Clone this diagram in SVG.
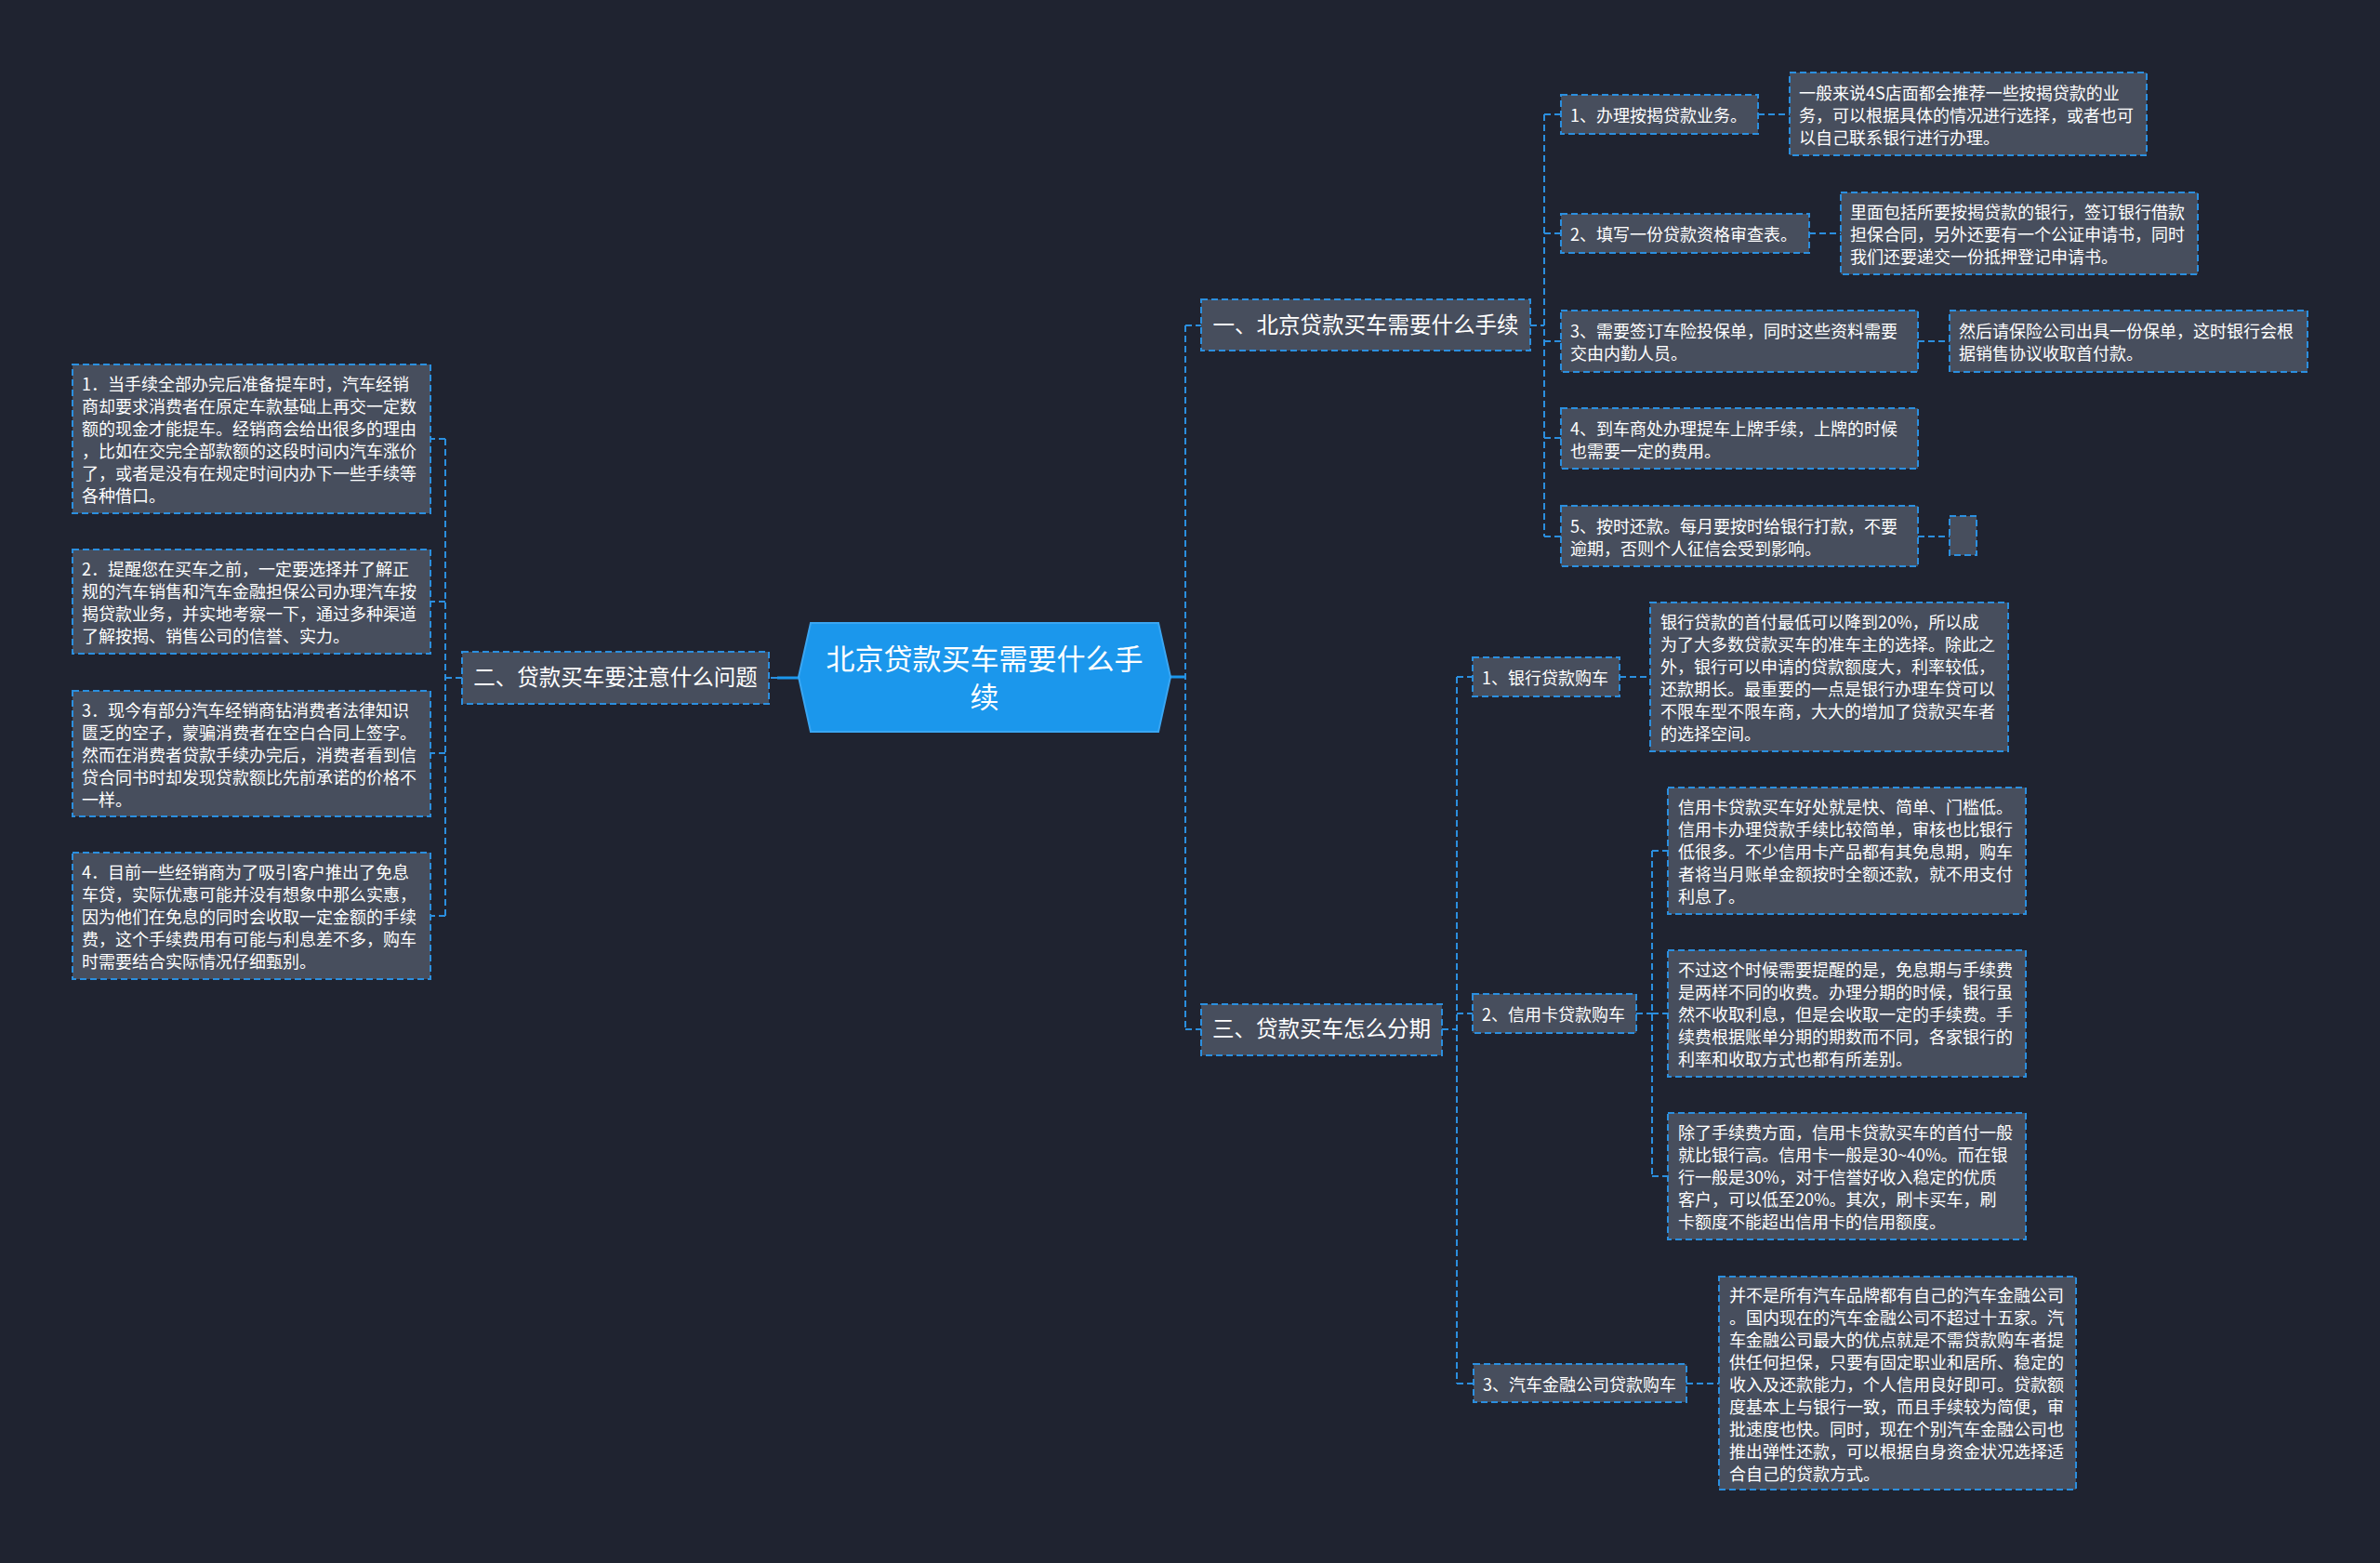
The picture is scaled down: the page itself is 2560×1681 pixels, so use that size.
<svg xmlns="http://www.w3.org/2000/svg" width="2560" height="1681" viewBox="0 0 2560 1681">
<style>
.bg{fill:#1f2330}
.n rect{fill:#474e5d;stroke:#2b8fdf;stroke-width:2;stroke-dasharray:7,4}
.t{font-family:"Noto Sans CJK SC","Microsoft YaHei",sans-serif;font-size:18px;fill:#ffffff;dominant-baseline:central}
.b{font-size:23.5px}
.c{font-size:31px}
.mid{text-anchor:middle}
.cn line{stroke:#2b8fdf;stroke-width:2;stroke-dasharray:7,4;fill:none}
.cn line.s{stroke-dasharray:none;stroke:#1b97ec;stroke-width:3}
</style>
<rect class="bg" x="0" y="0" width="2560" height="1681"/>

<g id="connectors" class="cn">
  <line class="s" x1="1259" y1="728" x2="1275" y2="728"/>
  <line x1="1275" y1="350" x2="1275" y2="1107"/>
  <line x1="1275" y1="350" x2="1292" y2="350"/>
  <line x1="1275" y1="1107" x2="1292" y2="1107"/>
  <line class="s" x1="860" y1="729" x2="836" y2="729"/>
  <line x1="836" y1="729" x2="827" y2="729"/>
  <line x1="497" y1="729" x2="479" y2="729"/>
  <line x1="479" y1="472" x2="479" y2="985"/>
  <line x1="479" y1="472" x2="463" y2="472"/>
  <line x1="479" y1="647" x2="463" y2="647"/>
  <line x1="479" y1="810" x2="463" y2="810"/>
  <line x1="479" y1="985" x2="463" y2="985"/>
  <line x1="1646" y1="350" x2="1661" y2="350"/>
  <line x1="1661" y1="123" x2="1661" y2="577"/>
  <line x1="1661" y1="123" x2="1679" y2="123"/>
  <line x1="1661" y1="251" x2="1679" y2="251"/>
  <line x1="1661" y1="367" x2="1679" y2="367"/>
  <line x1="1661" y1="471" x2="1679" y2="471"/>
  <line x1="1661" y1="577" x2="1679" y2="577"/>
  <line x1="1891" y1="123" x2="1925" y2="123"/>
  <line x1="1946" y1="251" x2="1980" y2="251"/>
  <line x1="2063" y1="367" x2="2097" y2="367"/>
  <line x1="2063" y1="577" x2="2097" y2="577"/>
  <line x1="1551" y1="1107" x2="1567" y2="1107"/>
  <line x1="1567" y1="728" x2="1567" y2="1488"/>
  <line x1="1567" y1="728" x2="1584" y2="728"/>
  <line x1="1567" y1="1090" x2="1584" y2="1090"/>
  <line x1="1567" y1="1488" x2="1585" y2="1488"/>
  <line x1="1742" y1="728" x2="1775" y2="728"/>
  <line x1="1760" y1="1090" x2="1777" y2="1090"/>
  <line x1="1777" y1="915" x2="1777" y2="1265"/>
  <line x1="1777" y1="915" x2="1794" y2="915"/>
  <line x1="1777" y1="1090" x2="1794" y2="1090"/>
  <line x1="1777" y1="1265" x2="1794" y2="1265"/>
  <line x1="1814" y1="1488" x2="1849" y2="1488"/>
</g>

<g id="root">
  <polygon points="872,670 1246,670 1259,728 1246,787 872,787 859,728" fill="#1b97ec" stroke="#3aa6f2" stroke-width="2"/>
  <text class="t c mid" x="1059" y="706">北京贷款买车需要什么手</text>
  <text class="t c mid" x="1059" y="747">续</text>
</g>

<g id="b1" class="n">
  <rect x="1292" y="322" width="354" height="55"/>
  <text class="t b mid" x="1469" y="348">一、北京贷款买车需要什么手续</text>
</g>
<g id="b2" class="n">
  <rect x="497" y="701" width="330" height="56"/>
  <text class="t b mid" x="662" y="727">二、贷款买车要注意什么问题</text>
</g>
<g id="b3" class="n">
  <rect x="1292" y="1080" width="259" height="55"/>
  <text class="t b mid" x="1421.5" y="1105">三、贷款买车怎么分期</text>
</g>

<g id="c1" class="n">
  <rect x="1679" y="102" width="212" height="42"/>
  <text class="t" x="1689" y="123">1、办理按揭贷款业务。</text>
</g>
<g id="c1d" class="n">
  <rect x="1925" y="78" width="384" height="89"/>
  <text class="t" x="1935" y="99">一般来说4S店面都会推荐一些按揭贷款的业</text>
  <text class="t" x="1935" y="123">务，可以根据具体的情况进行选择，或者也可</text>
  <text class="t" x="1935" y="147">以自己联系银行进行办理。</text>
</g>
<g id="c2" class="n">
  <rect x="1679" y="230" width="267" height="42"/>
  <text class="t" x="1689" y="251">2、填写一份贷款资格审查表。</text>
</g>
<g id="c2d" class="n">
  <rect x="1980" y="207" width="384" height="88"/>
  <text class="t" x="1990" y="227">里面包括所要按揭贷款的银行，签订银行借款</text>
  <text class="t" x="1990" y="251">担保合同，另外还要有一个公证申请书，同时</text>
  <text class="t" x="1990" y="275">我们还要递交一份抵押登记申请书。</text>
</g>
<g id="c3" class="n">
  <rect x="1679" y="334" width="384" height="66"/>
  <text class="t" x="1689" y="355">3、需要签订车险投保单，同时这些资料需要</text>
  <text class="t" x="1689" y="379">交由内勤人员。</text>
</g>
<g id="c3d" class="n">
  <rect x="2097" y="334" width="385" height="66"/>
  <text class="t" x="2107" y="355">然后请保险公司出具一份保单，这时银行会根</text>
  <text class="t" x="2107" y="379">据销售协议收取首付款。</text>
</g>
<g id="c4" class="n">
  <rect x="1679" y="439" width="384" height="65"/>
  <text class="t" x="1689" y="459.5">4、到车商处办理提车上牌手续，上牌的时候</text>
  <text class="t" x="1689" y="483.5">也需要一定的费用。</text>
</g>
<g id="c5" class="n">
  <rect x="1679" y="544" width="384" height="65"/>
  <text class="t" x="1689" y="564.5">5、按时还款。每月要按时给银行打款，不要</text>
  <text class="t" x="1689" y="588.5">逾期，否则个人征信会受到影响。</text>
</g>
<g id="c5d" class="n">
  <rect x="2097" y="555" width="29" height="42"/>
</g>

<g id="l1" class="n">
  <rect x="78" y="392" width="385" height="160"/>
  <text class="t" x="88" y="412">1．当手续全部办完后准备提车时，汽车经销</text>
  <text class="t" x="88" y="436">商却要求消费者在原定车款基础上再交一定数</text>
  <text class="t" x="88" y="460">额的现金才能提车。经销商会给出很多的理由</text>
  <text class="t" x="88" y="484">，比如在交完全部款额的这段时间内汽车涨价</text>
  <text class="t" x="88" y="508">了，或者是没有在规定时间内办下一些手续等</text>
  <text class="t" x="88" y="532">各种借口。</text>
</g>
<g id="l2" class="n">
  <rect x="78" y="591" width="385" height="112"/>
  <text class="t" x="88" y="611">2．提醒您在买车之前，一定要选择并了解正</text>
  <text class="t" x="88" y="635">规的汽车销售和汽车金融担保公司办理汽车按</text>
  <text class="t" x="88" y="659">揭贷款业务，并实地考察一下，通过多种渠道</text>
  <text class="t" x="88" y="683">了解按揭、销售公司的信誉、实力。</text>
</g>
<g id="l3" class="n">
  <rect x="78" y="743" width="385" height="135"/>
  <text class="t" x="88" y="762.5">3．现今有部分汽车经销商钻消费者法律知识</text>
  <text class="t" x="88" y="786.5">匮乏的空子，蒙骗消费者在空白合同上签字。</text>
  <text class="t" x="88" y="810.5">然而在消费者贷款手续办完后，消费者看到信</text>
  <text class="t" x="88" y="834.5">贷合同书时却发现贷款额比先前承诺的价格不</text>
  <text class="t" x="88" y="858.5">一样。</text>
</g>
<g id="l4" class="n">
  <rect x="78" y="917" width="385" height="136"/>
  <text class="t" x="88" y="937">4．目前一些经销商为了吸引客户推出了免息</text>
  <text class="t" x="88" y="961">车贷，实际优惠可能并没有想象中那么实惠，</text>
  <text class="t" x="88" y="985">因为他们在免息的同时会收取一定金额的手续</text>
  <text class="t" x="88" y="1009">费，这个手续费用有可能与利息差不多，购车</text>
  <text class="t" x="88" y="1033">时需要结合实际情况仔细甄别。</text>
</g>

<g id="d1" class="n">
  <rect x="1584" y="707" width="158" height="42"/>
  <text class="t" x="1594" y="728">1、银行贷款购车</text>
</g>
<g id="d1d" class="n">
  <rect x="1775" y="648" width="385" height="160"/>
  <text class="t" x="1786" y="668">银行贷款的首付最低可以降到20%，所以成</text>
  <text class="t" x="1786" y="692">为了大多数贷款买车的准车主的选择。除此之</text>
  <text class="t" x="1786" y="716">外，银行可以申请的贷款额度大，利率较低，</text>
  <text class="t" x="1786" y="740">还款期长。最重要的一点是银行办理车贷可以</text>
  <text class="t" x="1786" y="764">不限车型不限车商，大大的增加了贷款买车者</text>
  <text class="t" x="1786" y="788">的选择空间。</text>
</g>
<g id="d2" class="n">
  <rect x="1584" y="1069" width="176" height="42"/>
  <text class="t" x="1594" y="1090">2、信用卡贷款购车</text>
</g>
<g id="d2a" class="n">
  <rect x="1794" y="847" width="385" height="136"/>
  <text class="t" x="1805" y="867">信用卡贷款买车好处就是快、简单、门槛低。</text>
  <text class="t" x="1805" y="891">信用卡办理贷款手续比较简单，审核也比银行</text>
  <text class="t" x="1805" y="915">低很多。不少信用卡产品都有其免息期，购车</text>
  <text class="t" x="1805" y="939">者将当月账单金额按时全额还款，就不用支付</text>
  <text class="t" x="1805" y="963">利息了。</text>
</g>
<g id="d2b" class="n">
  <rect x="1794" y="1022" width="385" height="136"/>
  <text class="t" x="1805" y="1042">不过这个时候需要提醒的是，免息期与手续费</text>
  <text class="t" x="1805" y="1066">是两样不同的收费。办理分期的时候，银行虽</text>
  <text class="t" x="1805" y="1090">然不收取利息，但是会收取一定的手续费。手</text>
  <text class="t" x="1805" y="1114">续费根据账单分期的期数而不同，各家银行的</text>
  <text class="t" x="1805" y="1138">利率和收取方式也都有所差别。</text>
</g>
<g id="d2c" class="n">
  <rect x="1794" y="1197" width="385" height="136"/>
  <text class="t" x="1805" y="1217">除了手续费方面，信用卡贷款买车的首付一般</text>
  <text class="t" x="1805" y="1241">就比银行高。信用卡一般是30~40%。而在银</text>
  <text class="t" x="1805" y="1265">行一般是30%，对于信誉好收入稳定的优质</text>
  <text class="t" x="1805" y="1289">客户，可以低至20%。其次，刷卡买车，刷</text>
  <text class="t" x="1805" y="1313">卡额度不能超出信用卡的信用额度。</text>
</g>
<g id="d3" class="n">
  <rect x="1585" y="1467" width="229" height="41"/>
  <text class="t" x="1595" y="1488">3、汽车金融公司贷款购车</text>
</g>
<g id="d3d" class="n">
  <rect x="1849" y="1373" width="384" height="229"/>
  <text class="t" x="1860" y="1392">并不是所有汽车品牌都有自己的汽车金融公司</text>
  <text class="t" x="1860" y="1416">。国内现在的汽车金融公司不超过十五家。汽</text>
  <text class="t" x="1860" y="1440">车金融公司最大的优点就是不需贷款购车者提</text>
  <text class="t" x="1860" y="1464">供任何担保，只要有固定职业和居所、稳定的</text>
  <text class="t" x="1860" y="1488">收入及还款能力，个人信用良好即可。贷款额</text>
  <text class="t" x="1860" y="1512">度基本上与银行一致，而且手续较为简便，审</text>
  <text class="t" x="1860" y="1536">批速度也快。同时，现在个别汽车金融公司也</text>
  <text class="t" x="1860" y="1560">推出弹性还款，可以根据自身资金状况选择适</text>
  <text class="t" x="1860" y="1584">合自己的贷款方式。</text>
</g>
</svg>
